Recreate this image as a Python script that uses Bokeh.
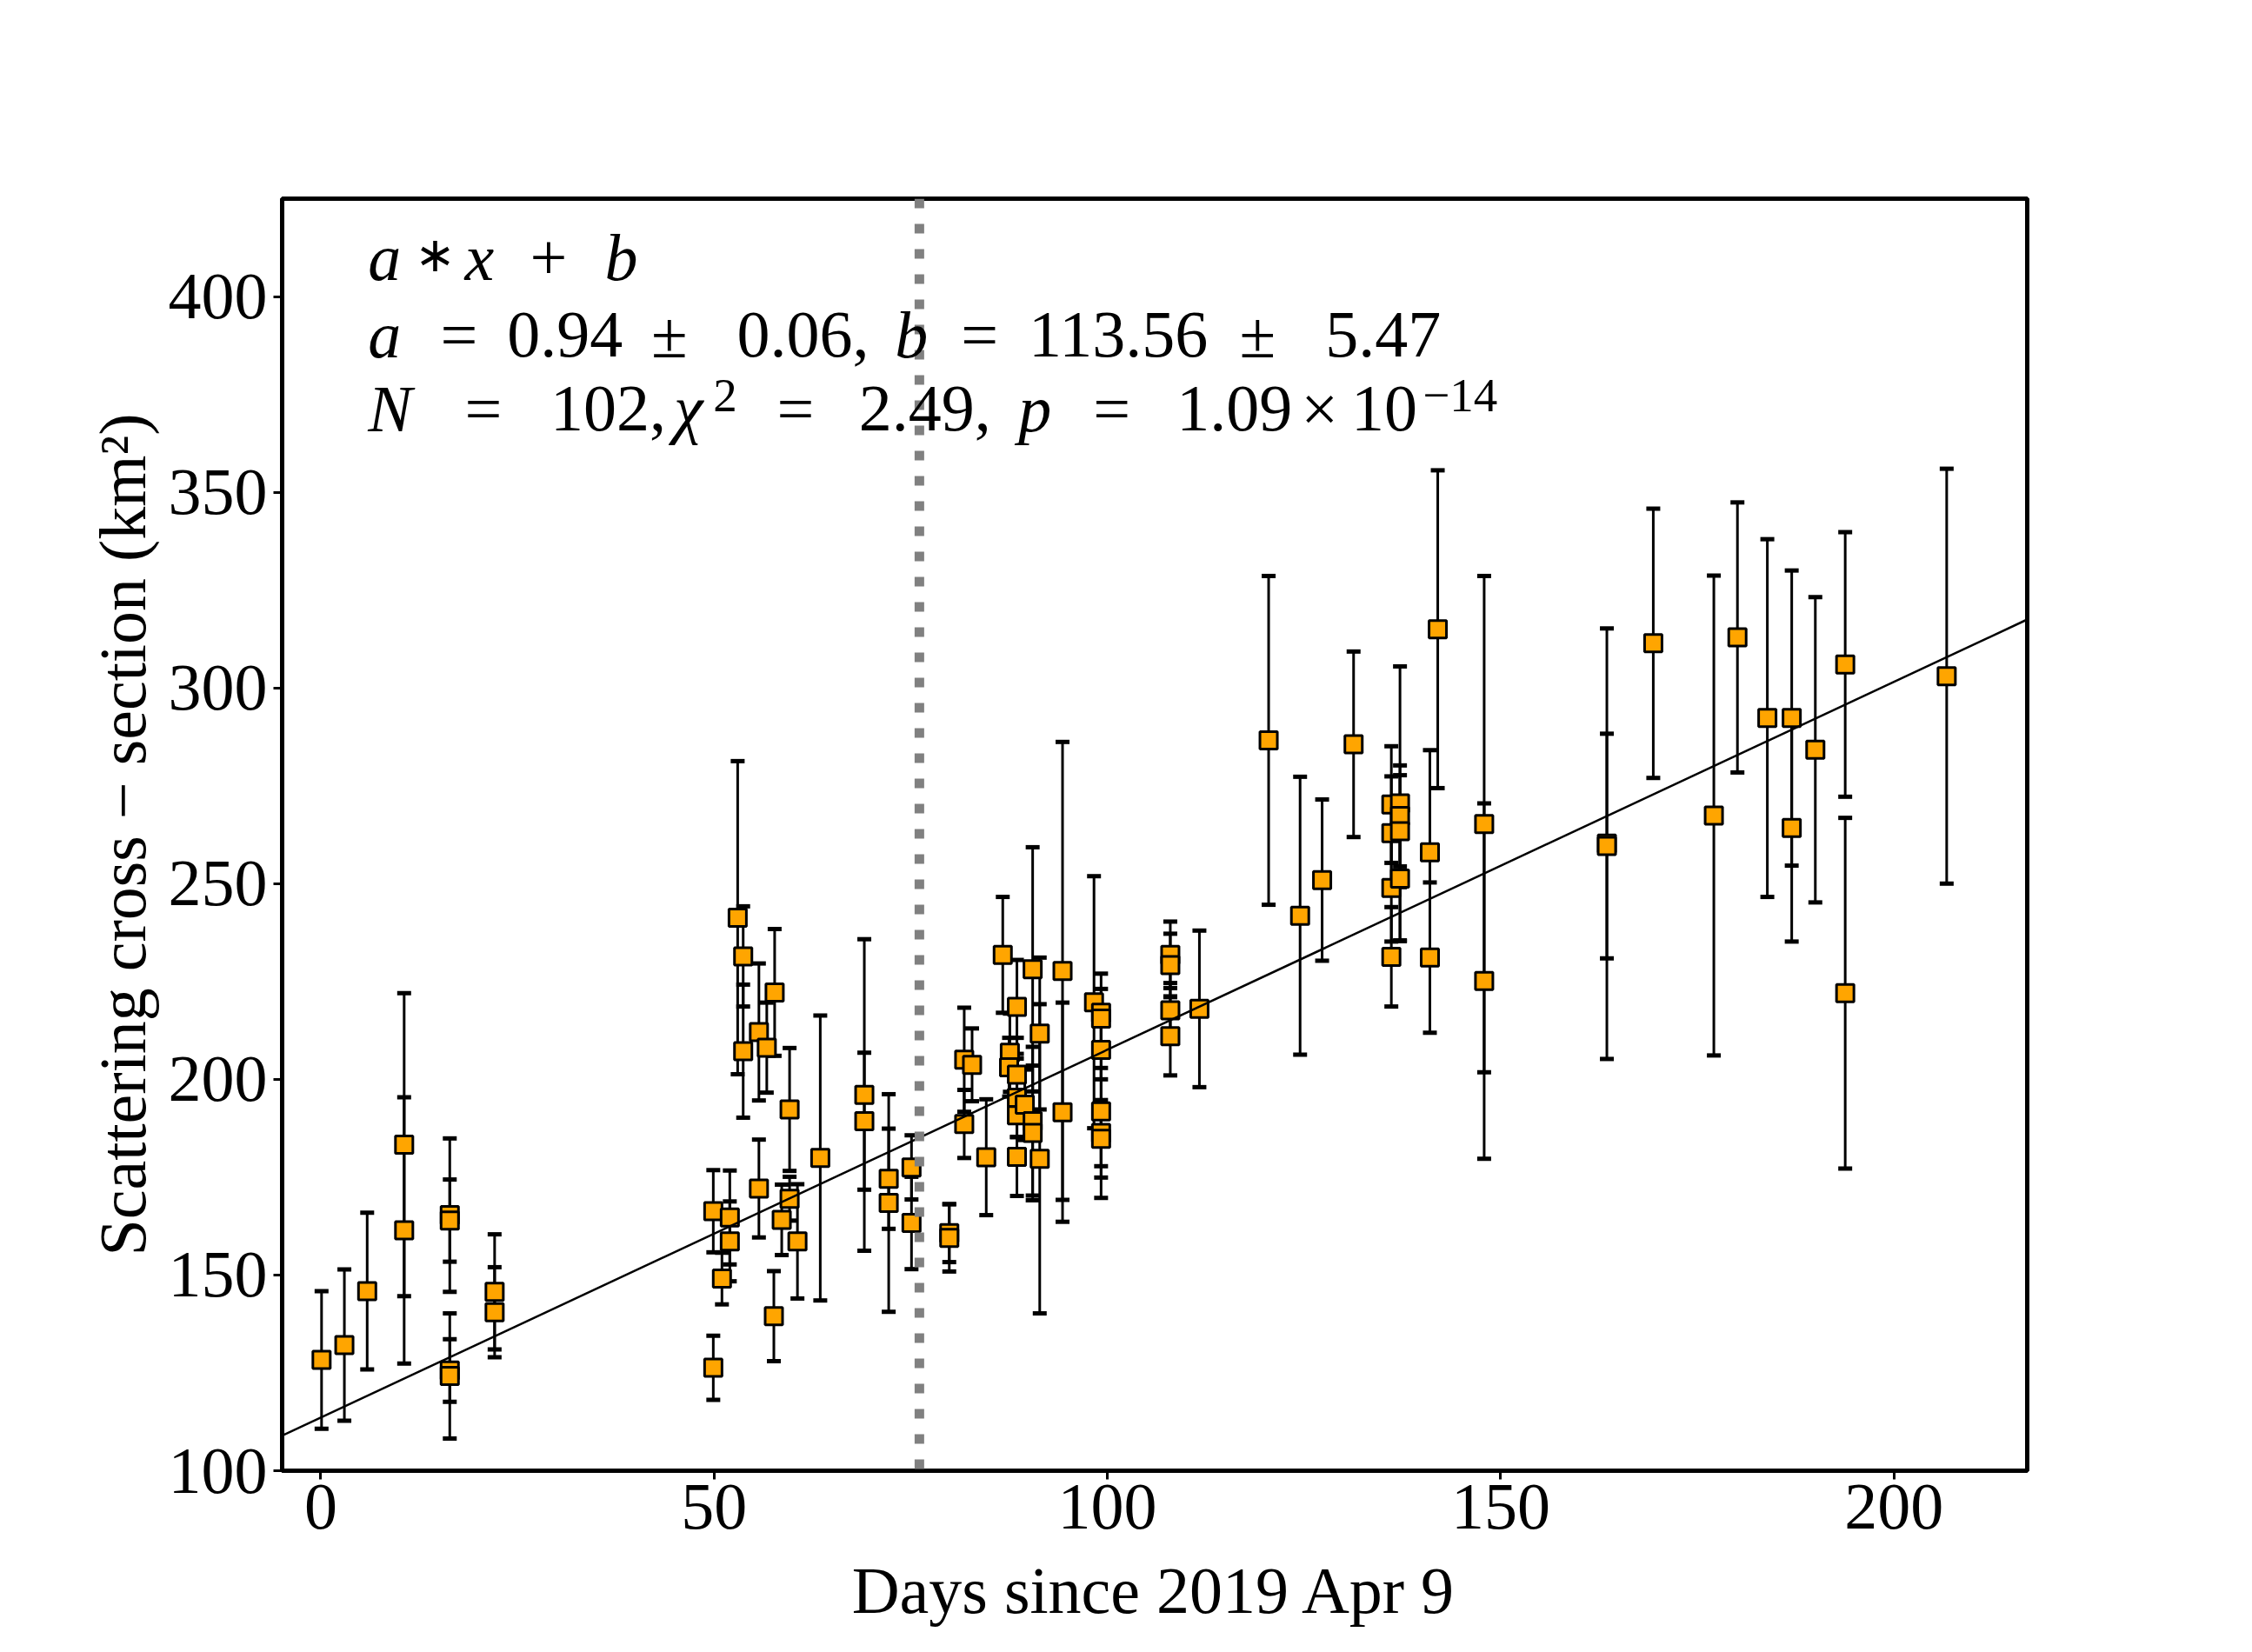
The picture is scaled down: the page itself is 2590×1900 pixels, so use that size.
from bokeh.plotting import figure
from bokeh.models import Span, Label, FixedTicker, ColumnDataSource
from bokeh.embed import file_html
from bokeh.resources import INLINE

# ---------------- data ----------------
days = [0.1, 3.0, 5.9, 10.6, 10.6, 16.4, 16.4, 16.4, 16.4, 22.1, 22.1,
        49.9, 49.9, 51.0, 52.0, 52.0, 53.0, 53.7, 53.7, 55.7, 55.7,
        56.7, 57.7, 57.6, 58.6, 59.6, 59.6, 60.6, 63.5, 69.1, 69.1,
        72.2, 72.2, 75.1, 75.1, 79.9, 79.9, 81.8, 81.8, 82.8, 84.6,
        86.7, 87.6, 87.5, 88.5, 88.5, 88.5, 88.5, 88.5, 89.5, 90.5,
        90.5, 90.5, 91.4, 91.4, 94.3, 94.3, 98.3, 99.2, 99.2, 99.2,
        99.2, 99.2, 99.2,
        108.0, 108.0, 108.0, 108.0, 111.7, 120.5,
        124.5, 127.3, 131.3, 136.1, 136.1, 136.1, 136.1, 137.2, 137.2,
        137.2, 137.2, 141.0, 141.0, 142.0, 147.9, 147.9,
        163.5, 163.5, 169.4, 177.1, 180.1, 183.9, 187.0, 187.0, 190.0,
        193.8, 193.8, 206.7]

cross_section = [128.3, 132.1, 145.9, 183.3, 161.4, 165.3, 163.9, 125.6, 124.2, 145.7, 140.5,
                 166.3, 126.3, 149.1, 164.7, 158.6, 241.3, 231.4, 207.2, 212.1, 172.1,
                 208.1, 222.2, 139.5, 164.1, 192.3, 169.5, 158.6, 179.9, 196.0, 189.3,
                 174.6, 168.4, 177.5, 163.3, 160.7, 159.5, 205.0, 188.6, 203.7, 180.1,
                 231.8, 206.8, 203.1, 218.5, 201.2, 195.3, 190.8, 180.2, 193.5, 228.1,
                 189.3, 186.3, 211.7, 179.7, 227.7, 191.6, 219.7, 217.0, 215.5, 207.5,
                 191.8, 186.3, 184.8,
                 231.8, 229.2, 217.6, 211.0, 218.0, 286.6,
                 241.8, 250.9, 285.6, 270.2, 262.9, 248.9, 231.3, 270.5, 267.3,
                 263.4, 251.3, 258.0, 231.1, 315.0, 265.2, 225.1,
                 260.2, 259.6, 311.4, 267.4, 312.9, 292.3, 292.3, 264.2, 284.2,
                 306.0, 222.0, 303.0]

cross_section_err = [17.6, 19.3, 20.0, 38.7, 34.0, 19.6, 10.5, 8.0, 16.0, 14.7, 11.5,
                     10.5, 8.2, 6.6, 12.0, 10.2, 40.0, 12.8, 17.0, 17.5, 12.5,
                     11.5, 16.2, 11.5, 9.0, 15.7, 5.6, 14.6, 36.4, 39.8, 17.5,
                     12.8, 27.8, 8.2, 11.8, 7.4, 8.6, 13.3, 8.7, 9.3, 14.8,
                     14.8, 10.0, 7.5, 12.0, 9.4, 10.0, 5.6, 10.0, 9.0, 31.2,
                     19.0, 17.2, 19.4, 39.5, 58.5, 28.0, 32.2, 10.0, 7.6, 7.5,
                     14.0, 16.6, 9.9,
                     8.5, 8.0, 7.0, 10.0, 20.0, 42.0,
                     35.5, 20.6, 23.7, 14.9, 14.5, 13.7, 12.7, 35.0, 12.9,
                     14.3, 16.0, 26.1, 19.2, 40.6, 63.4, 45.4,
                     55.0, 28.7, 34.4, 61.3, 34.5, 45.7, 37.7, 29.0, 39.0,
                     33.8, 44.8, 53.0]

fit_a, fit_a_err = 0.94, 0.06
fit_b, fit_b_err = 113.56, 5.47
n_points, chi2 = 102, 2.49
p_mant, p_exp = "1.09", "−14"
event_day = 76.1

x_ticks = [0, 50, 100, 150, 200]
y_ticks = [100, 150, 200, 250, 300, 350, 400]
x_lim = (-4.91, 216.94)
y_lim = (100, 425.0)

# ---------------- figure ----------------
FONT = "Liberation Serif"
FS = "76px"

p = figure(frame_width=2007, frame_height=1463,
           x_range=x_lim, y_range=y_lim,
           min_border_left=324, min_border_top=228,
           min_border_right=230, min_border_bottom=190,
           output_backend="svg", toolbar_location=None,
           background_fill_color="white", border_fill_color="white")

p.xgrid.visible = False
p.ygrid.visible = False
p.outline_line_color = "black"
p.outline_line_width = 5
p.outline_line_alpha = 1.0

p.xaxis.ticker = FixedTicker(ticks=x_ticks)
p.yaxis.ticker = FixedTicker(ticks=y_ticks)
for ax in (p.xaxis[0], p.yaxis[0]):
    ax.axis_line_color = None
    ax.major_tick_out = 10
    ax.major_tick_in = 0
    ax.major_tick_line_width = 3
    ax.major_tick_line_color = "black"
    ax.minor_tick_line_color = None
    ax.major_label_text_font = FONT
    ax.major_label_text_font_size = FS
    ax.major_label_text_color = "black"
    ax.axis_label_text_font = FONT
    ax.axis_label_text_font_size = FS
    ax.axis_label_text_font_style = "normal"
    ax.axis_label_text_color = "black"

p.xaxis.major_label_standoff = 6
p.yaxis.major_label_standoff = 7
p.xaxis.axis_label = "Days since 2019 Apr 9"
p.yaxis.axis_label = "Scattering cross − section (km²)"
p.xaxis.axis_label_standoff = 26
p.yaxis.axis_label_standoff = 8

# vertical dotted marker
p.add_layout(Span(location=event_day, dimension="height", line_color="#808080",
                  line_width=11, line_dash="11 18", line_cap="butt"))

# error bars
lo = [v - e for v, e in zip(cross_section, cross_section_err)]
hi = [v + e for v, e in zip(cross_section, cross_section_err)]
src = ColumnDataSource(dict(x=days, y=cross_section, lo=lo, hi=hi))
p.segment(x0="x", y0="lo", x1="x", y1="hi", source=src, line_color="black", line_width=3)
p.scatter(x="x", y="lo", source=src, marker="dash", size=16, line_width=5, line_color="black")
p.scatter(x="x", y="hi", source=src, marker="dash", size=16, line_width=5, line_color="black")

# points
p.scatter(x="x", y="y", source=src, marker="square", size=20, fill_color="#FFA500",
          line_color="black", line_width=3)

# linear fit
fx = [x_lim[0], x_lim[1]]
fy = [fit_a * v + fit_b for v in fx]
p.line(fx, fy, line_color="black", line_width=2.5)

# annotation text, set token by token like the math text of the reference
L1, L2, L3 = 410.0, 390.3, 371.3
SUP = 3.4
I, N_ = "italic", "normal"
tokens = [
    ("a", 6.0, L1, I, FS), ("∗", 11.9, L1 + 0.6, N_, "56px"), ("x", 18.3, L1, I, FS),
    ("+", 26.6, L1, N_, FS), ("b", 36.1, L1, I, FS),
    ("a", 6.0, L2, I, FS), ("=", 15.2, L2, N_, FS), (f"{fit_a:.2f}", 23.7, L2, N_, FS),
    ("±", 42.0, L2, N_, FS), (f"{fit_a_err:.2f},", 52.9, L2, N_, FS),
    ("b", 73.0, L2, I, FS), ("=", 81.4, L2, N_, FS), (f"{fit_b:.2f}", 90.0, L2, N_, FS),
    ("±", 116.8, L2, N_, FS), (f"{fit_b_err:.2f}", 127.7, L2, N_, FS),
    ("N", 6.0, L3, I, FS), ("=", 18.3, L3, N_, FS), (f"{n_points},", 29.2, L3, N_, FS),
    ("χ", 44.9, L3, I, FS), ("2", 49.9, L3 + SUP, N_, "55px"), ("=", 58.0, L3, N_, FS),
    (f"{chi2:.2f},", 68.4, L3, N_, FS), ("p", 88.7, L3, I, FS), ("=", 98.2, L3, N_, FS),
    (p_mant, 108.8, L3, N_, FS), ("×", 124.6, L3, N_, FS), ("10", 131.0, L3, N_, FS),
    (p_exp, 140.1, L3 + SUP, N_, "55px"),
]
for txt, xx, yy, style, size in tokens:
    p.add_layout(Label(x=xx, y=yy, text=txt, text_font=FONT, text_font_size=size,
                       text_font_style=style, text_color="black", text_baseline="alphabetic"))

open("out.html", "w").write(file_html(p, INLINE))
